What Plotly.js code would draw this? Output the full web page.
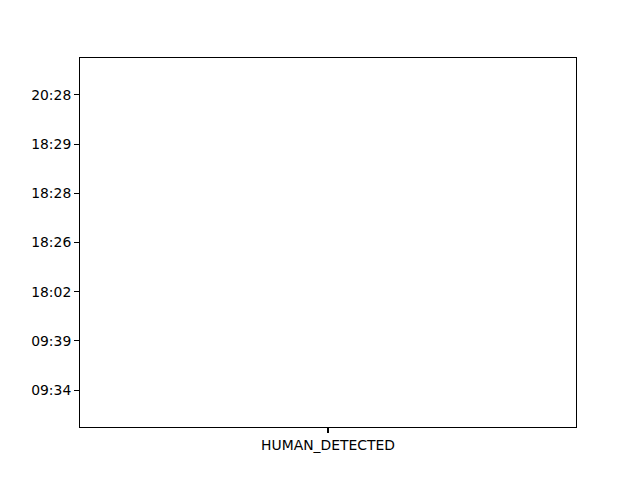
<!DOCTYPE html>
<html>
<head>
<meta charset="utf-8">
<script src="https://cdn.plot.ly/plotly-3.0.1.min.js"></script>
<style>html,body{margin:0;padding:0;background:#fff}#chart{width:640px;height:480px}</style>
</head>
<body>
<div id="chart"></div>
<script>
// Event categories (x) and detection times (y), bottom to top
const eventTypes = ["HUMAN_DETECTED"];
const timeLabels = ["09:34", "09:39", "18:02", "18:26", "18:28", "18:29", "20:28"];
const pointEvents = ["HUMAN_DETECTED", "HUMAN_DETECTED", "HUMAN_DETECTED", "HUMAN_DETECTED", "HUMAN_DETECTED", "HUMAN_DETECTED", "HUMAN_DETECTED"];
const pointTimes = ["09:34", "09:39", "18:02", "18:26", "18:28", "18:29", "20:28"];

const font = {family: "DejaVu Sans, sans-serif", size: 13.9, color: "#000"};

const trace = {
  type: "scatter",
  mode: "markers",
  x: pointEvents,
  y: pointTimes,
  marker: {size: 6, color: "rgba(0,0,0,0)"},
  hoverinfo: "x+y",
  showlegend: false
};

const axisCommon = {
  showline: true, mirror: true, linecolor: "#000", linewidth: 1.1,
  ticks: "outside", ticklen: 4.9, tickwidth: 1.1, tickcolor: "#000",
  showgrid: false, zeroline: false, tickfont: font, ticklabelstandoff: 4.9
};

const layout = {
  width: 640, height: 480,
  margin: {l: 80, r: 64, t: 57.6, b: 52.8, pad: 0},
  paper_bgcolor: "#fff", plot_bgcolor: "#fff",
  font: font,
  xaxis: Object.assign({}, axisCommon, {
    type: "category", categoryorder: "array", categoryarray: eventTypes,
    range: [-0.5, 0.5]
  }),
  yaxis: Object.assign({}, axisCommon, {
    type: "category", categoryorder: "array", categoryarray: timeLabels,
    range: [-0.75, 6.75]
  })
};

Plotly.newPlot("chart", [trace], layout, {displayModeBar: false, staticPlot: true});
</script>
</body>
</html>
